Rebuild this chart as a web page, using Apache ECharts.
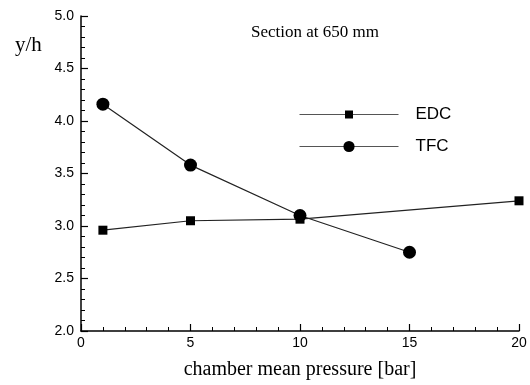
<!DOCTYPE html>
<html>
<head>
<meta charset="utf-8">
<script src="https://cdn.jsdelivr.net/npm/echarts@6/dist/echarts.min.js"></script>
<style>
html,body{margin:0;padding:0;background:#fff;}
#main{width:530px;height:385px;}
</style>
</head>
<body>
<div id="main"></div>
<script>
// data
var edcX = [1, 5, 10, 20];
var edcY = [2.96, 3.05, 3.065, 3.24];
var tfcX = [1, 5, 10, 15];
var tfcY = [4.16, 3.58, 3.10, 2.75];

function pairs(xs, ys) {
    return xs.map(function (x, i) { return [x, ys[i]]; });
}

var legendText = { fontFamily: 'Liberation Sans', fontSize: 17, color: '#000', padding: [0, 0, 0, 12] };
var legendLine = { color: '#555', width: 1 };

var myChart = echarts.init(document.getElementById('main'));

myChart.setOption({
    animation: false,
    backgroundColor: '#fff',
    grid: { left: 81, right: 11, top: 16, bottom: 53 },
    title: {
        text: 'Section at 650 mm',
        left: 246, top: 19,
        textStyle: { fontFamily: 'Liberation Serif', fontWeight: 'normal', fontSize: 17, color: '#000' }
    },
    // two legends so the square and circle icons can have different sizes
    legend: [{
        left: 294, top: 101,
        itemWidth: 99, itemHeight: 10,
        textStyle: legendText, lineStyle: legendLine,
        data: ['EDC']
    }, {
        left: 294, top: 133,
        itemWidth: 99, itemHeight: 14,
        textStyle: legendText, lineStyle: legendLine,
        data: ['TFC']
    }],
    xAxis: {
        type: 'value',
        min: 0, max: 20, interval: 5,
        name: 'chamber mean pressure [bar]',
        nameLocation: 'middle', nameGap: 29,
        nameTextStyle: { fontFamily: 'Liberation Serif', fontSize: 20, color: '#000' },
        axisLine: { lineStyle: { color: '#000', width: 1.5 } },
        axisTick: { inside: true, length: 7, lineStyle: { color: '#000', width: 1.2 } },
        minorTick: { show: true, splitNumber: 5, length: 4, lineStyle: { color: '#000' } },
        axisLabel: { fontFamily: 'Liberation Sans', fontSize: 14, color: '#000', margin: 5 },
        splitLine: { show: false }
    },
    yAxis: {
        type: 'value',
        min: 2, max: 5, interval: 0.5,
        axisLine: { show: true, lineStyle: { color: '#000', width: 1.5 } },
        axisTick: { show: true, inside: true, length: 7, lineStyle: { color: '#000', width: 1.2 } },
        minorTick: { show: true, splitNumber: 5, length: 4, lineStyle: { color: '#000' } },
        axisLabel: {
            fontFamily: 'Liberation Sans', fontSize: 14, color: '#000', margin: 7,
            formatter: function (v) { return v.toFixed(1); }
        },
        splitLine: { show: false }
    },
    graphic: [{
        type: 'text', left: 15, top: 35,
        style: { text: 'y/h', font: '21px "Liberation Serif"', fill: '#000' }
    }],
    series: [{
        name: 'EDC',
        type: 'line',
        data: pairs(edcX, edcY),
        symbol: 'rect', symbolSize: 9,
        itemStyle: { color: '#000' },
        lineStyle: { color: '#222', width: 1.2 }
    }, {
        name: 'TFC',
        type: 'line',
        data: pairs(tfcX, tfcY),
        symbol: 'circle', symbolSize: 13,
        itemStyle: { color: '#000' },
        lineStyle: { color: '#222', width: 1.2 }
    }]
});
</script>
</body>
</html>
